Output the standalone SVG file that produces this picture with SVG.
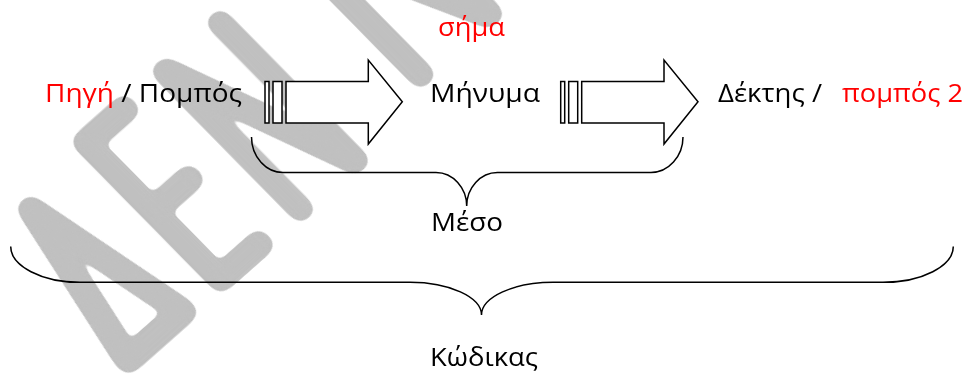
<svg xmlns="http://www.w3.org/2000/svg" width="967" height="378" viewBox="0 0 967 378">
  <style>
    .lbl { font-family: "Open Sans", "Noto Sans", "DejaVu Sans", sans-serif; font-size: 26px; }
    .red { fill: #ff0000; }
    .blk { fill: #000000; }
    .arrow { fill: #ffffff; stroke: #000000; stroke-width: 1.5; stroke-linejoin: miter; }
    .brace { fill: none; stroke: #000000; stroke-width: 1.5; }
    .mark { font-family: Inter, Lato, "Open Sans", "DejaVu Sans", sans-serif; font-weight: 100; font-size: 270px; fill: #c0c0c0; }
  </style>
  <defs>
    <!-- thickens the thin watermark letters into even, round-ended strokes
         (all values are in the squeezed watermark space: x units are 0.52 px) -->
    <filter id="markInk" filterUnits="userSpaceOnUse" x="-300" y="-450" width="1700" height="600" color-interpolation-filters="sRGB">
      <feMorphology operator="dilate" radius="9.6 5" result="thick"/>
      <feGaussianBlur in="thick" stdDeviation="11.5 6" result="soft"/>
      <feComponentTransfer in="soft">
        <feFuncA type="linear" slope="25" intercept="-3.2"/>
      </feComponentTransfer>
    </filter>
    <!-- block arrow with two tail bars -->
    <g id="blockArrow">
      <rect class="arrow" x="265" y="81.5" width="4" height="41.5"/>
      <rect class="arrow" x="273" y="81.5" width="9" height="41.5"/>
      <path class="arrow" d="M286,81.5 L368.3,81.5 L368.3,60 L402.3,101.8 L368.3,144 L368.3,123 L286,123 Z"/>
    </g>
  </defs>

  <rect width="967" height="378" fill="#ffffff"/>

  <!-- background watermark -->
  <g id="watermark" transform="translate(126,366) rotate(-41.5) skewX(3) scale(0.52,1)" filter="url(#markInk)">
    <text class="mark" text-anchor="middle" transform="translate(81,0) scale(1,0.93)">Δ</text>
    <text class="mark" text-anchor="middle"><tspan x="292" y="0">Ε</tspan><tspan x="522" y="0">Ν</tspan></text>
    <text class="mark" text-anchor="middle" transform="translate(886,-21) scale(1.25,1)">Ν</text>
  </g>

  <g id="connectors">
    <use href="#blockArrow"/>
    <use href="#blockArrow" transform="translate(295.7,0)"/>
    <path class="brace" d="M251.5,137 C251.5,156.5 265.7,172.5 283,172.5 L436,172.5 C453,172.5 466.7,188 466.7,206 C466.7,188 480.4,172.5 497.4,172.5 L651,172.5 C668.3,172.5 683,156.5 683,137"/>
    <path class="brace" d="M10.7,246.5 C10.7,266 41.7,282.3 80,282.3 L410,282.3 C449,282.3 481.5,297 481.5,315 C481.5,297 514,282.3 553,282.3 L883,282.3 C922,282.3 953.3,266 953.3,246.5"/>
  </g>

  <g id="source">
    <text class="lbl" x="45" y="101.5" textLength="197" lengthAdjust="spacingAndGlyphs"><tspan class="red">Πηγή</tspan><tspan class="blk"> / Πομπός</tspan></text>
  </g>
  <g id="signal">
    <text class="lbl red" x="438" y="36" textLength="67" lengthAdjust="spacingAndGlyphs">σήμα</text>
  </g>
  <g id="message">
    <text class="lbl blk" x="430" y="101.5" textLength="110" lengthAdjust="spacingAndGlyphs">Μήνυμα</text>
  </g>
  <g id="receiver">
    <text class="lbl blk" x="718" y="101.5" textLength="104" lengthAdjust="spacingAndGlyphs">Δέκτης /</text>
    <text class="lbl red" x="842" y="101.5" textLength="121" lengthAdjust="spacingAndGlyphs">πομπός 2</text>
  </g>
  <g id="medium">
    <text class="lbl blk" x="431" y="231" textLength="72" lengthAdjust="spacingAndGlyphs">Μέσο</text>
  </g>
  <g id="code">
    <text class="lbl blk" x="430" y="366" textLength="108" lengthAdjust="spacingAndGlyphs">Κώδικας</text>
  </g>
</svg>
